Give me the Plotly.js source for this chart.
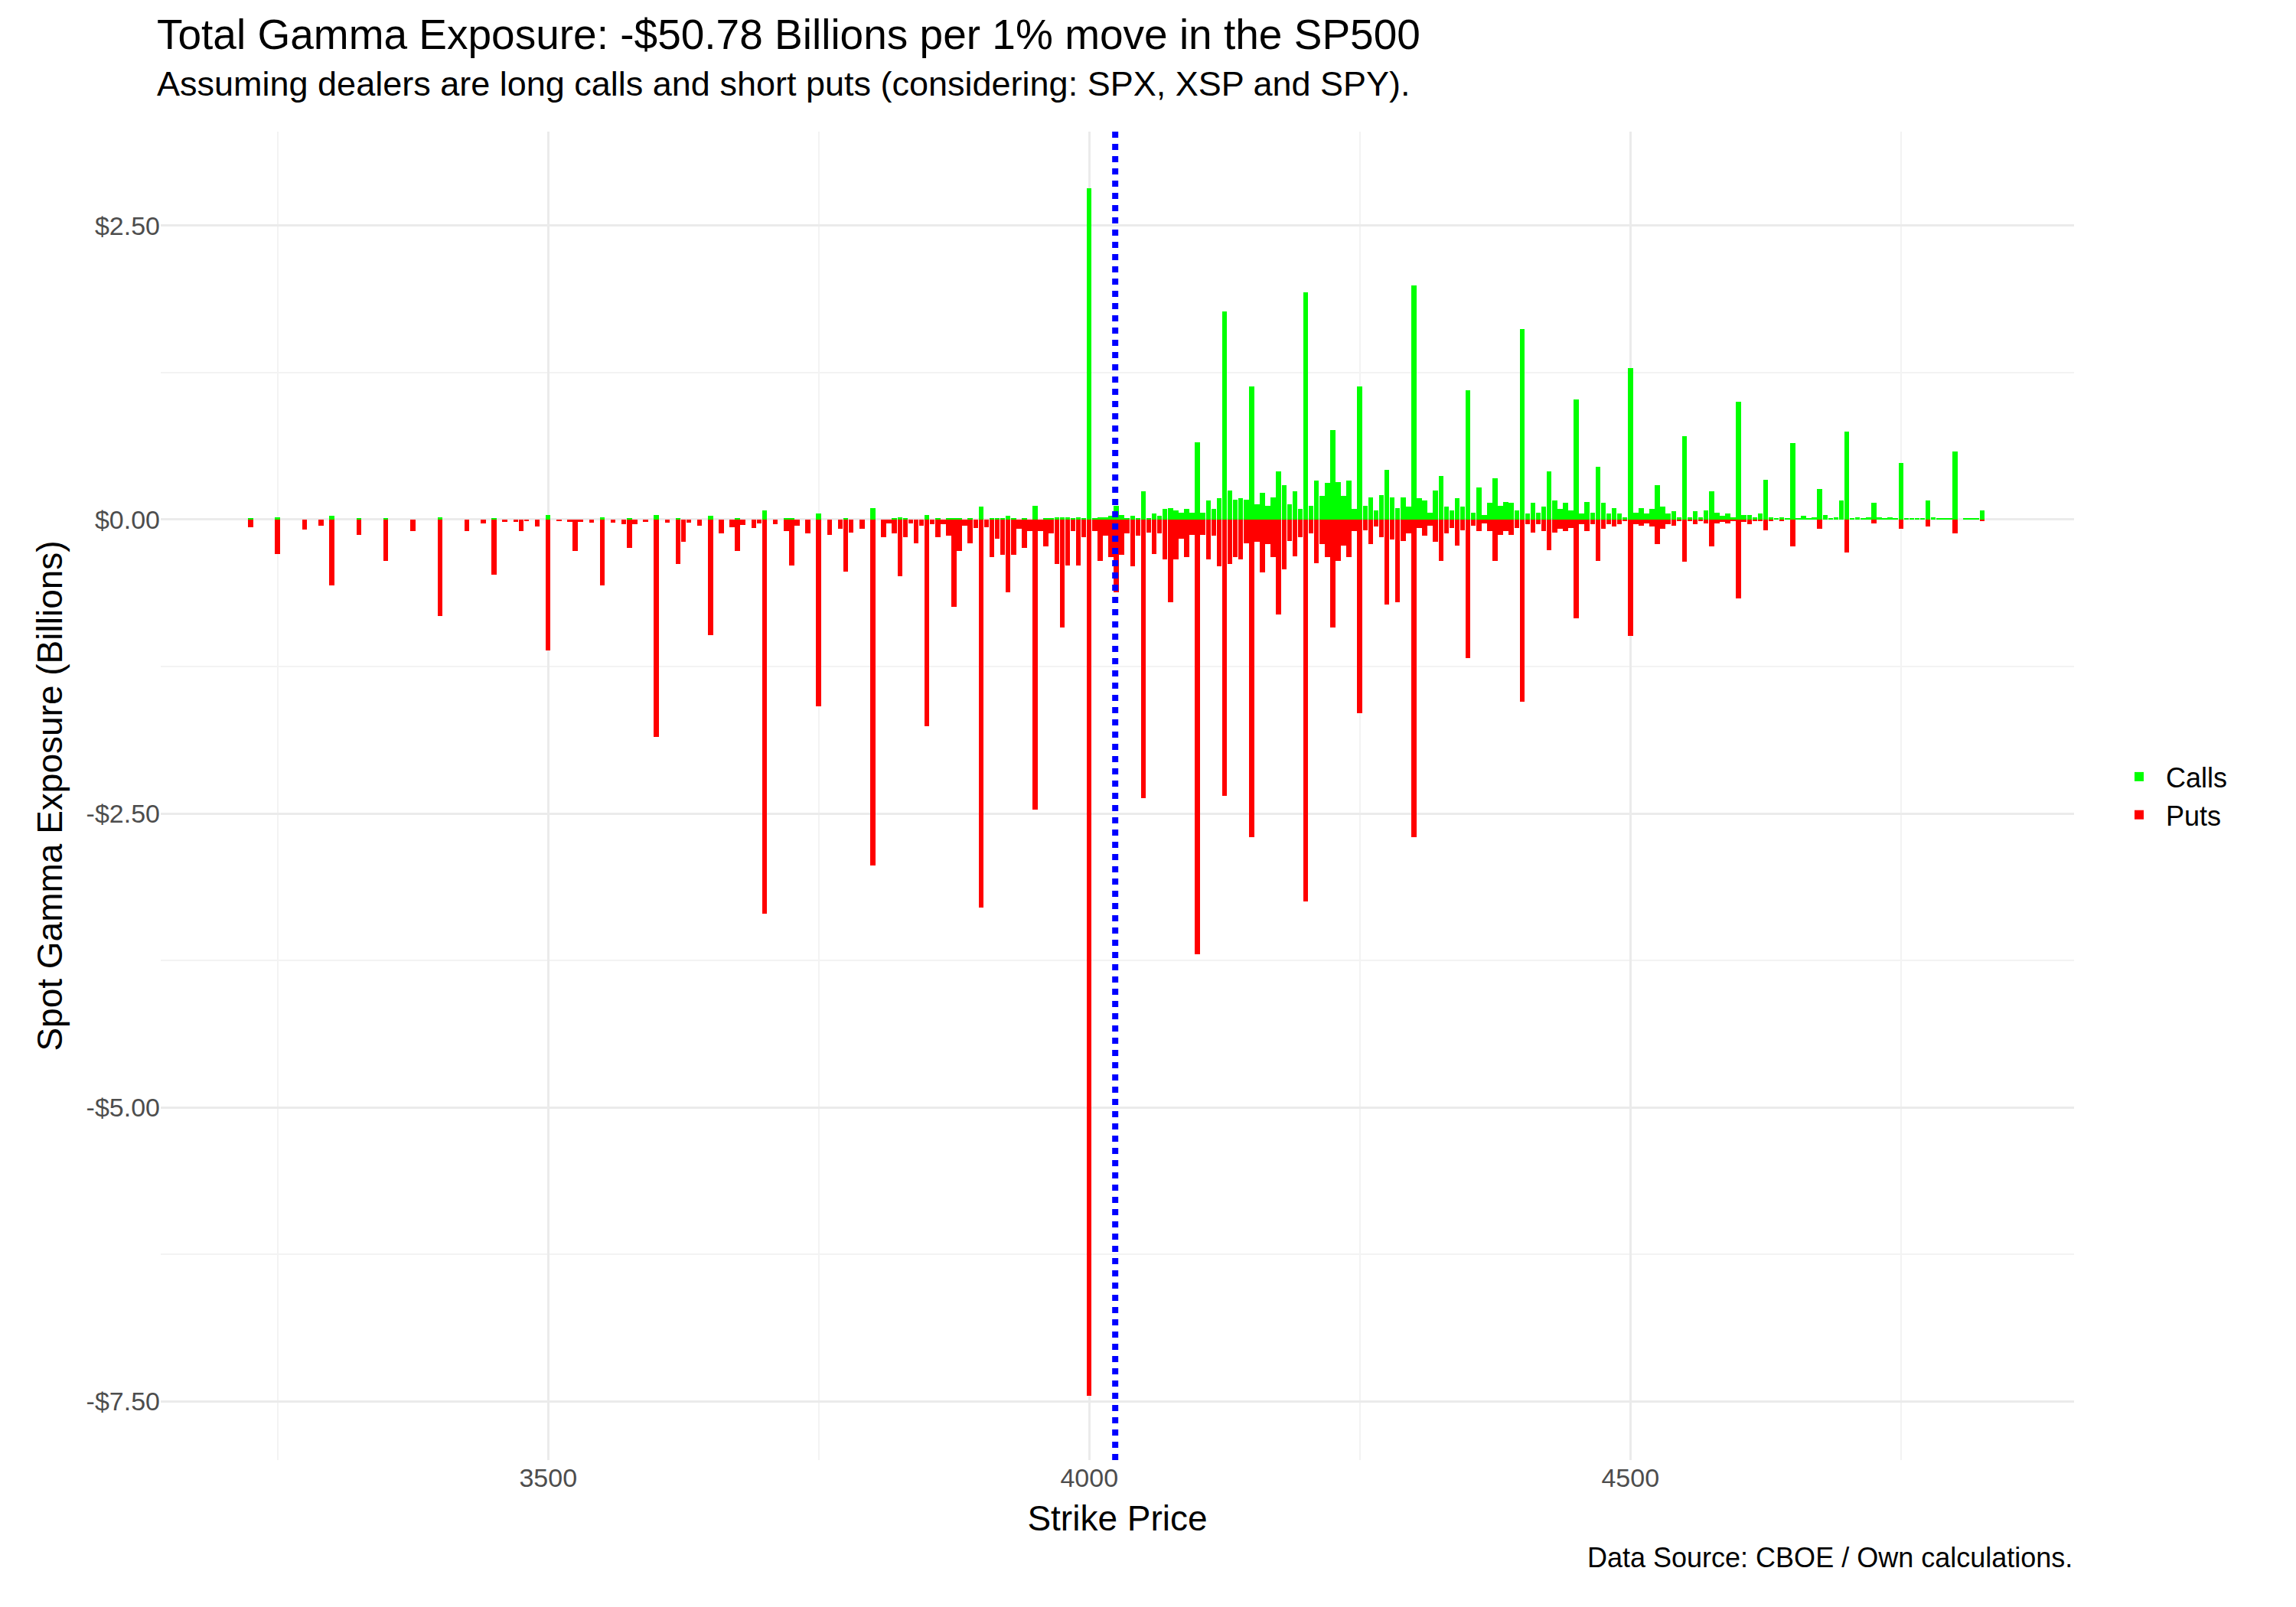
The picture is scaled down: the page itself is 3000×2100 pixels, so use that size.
<!DOCTYPE html>
<html>
<head>
<meta charset="utf-8">
<script src="https://cdn.plot.ly/plotly-3.0.1.min.js"></script>
<style>body{margin:0;background:#fff}</style>
</head>
<body>
<div id="chart" style="width:3000px;height:2100px"></div>
<script>
// strike prices and gamma exposure (billions) per 1% move
var strikes = [3225,3250,3275,3290,3300,3325,3350,3375,3400,3425,3440,3450,3460,3470,3475,3480,3490,3500,3510,3520,3525,3530,3540,3550,3560,3570,3575,3580,3590,3600,3610,3620,3625,3630,3640,3650,3660,3670,3675,3680,3690,3695,
  3700,3710,3720,3725,3730,3740,3750,3760,3770,3775,3780,3790,3800,3810,3815,3820,3825,3830,3835,3840,3845,3850,3855,3860,3865,3870,3875,3880,3885,3890,3895,
  3900,3905,3910,3915,3920,3925,3930,3935,3940,3945,3950,3955,3960,3965,3970,3975,3980,3985,3990,3995,
  4000,4005,4010,4015,4020,4025,4030,4035,4040,4045,4050,4055,4060,4065,4070,4075,4080,4085,4090,4095,
  4100,4105,4110,4115,4120,4125,4130,4135,4140,4145,4150,4155,4160,4165,4170,4175,4180,4185,4190,4195,
  4200,4205,4210,4215,4220,4225,4230,4235,4240,4245,4250,4255,4260,4265,4270,4275,4280,4285,4290,4295,
  4300,4305,4310,4315,4320,4325,4330,4335,4340,4345,4350,4355,4360,4365,4370,4375,4380,4385,4390,4395,
  4400,4405,4410,4415,4420,4425,4430,4435,4440,4445,4450,4455,4460,4465,4470,4475,4480,4485,4490,4495,
  4500,4505,4510,4515,4520,4525,4530,4535,4540,4545,4550,4555,4560,4565,4570,4575,4580,4585,4590,4595,
  4600,4605,4610,4615,4620,4625,4630,4635,4640,4645,4650,4655,4660,4665,4670,4675,4680,4685,4690,4695,
  4700,4705,4710,4715,4720,4725,4730,4735,4740,4745,4750,4755,4760,4765,4770,4775,4780,4785,4790,4795,
  4800,4810,4815,4820,4825];

var callGex = [0.01,0.02,0,0,0.03,0.01,0.01,0,0.02,0,0,0.01,0,0,0,0,0,0.04,0,0,0,0,0,0.02,0,0,0.01,0,0,0.04,0,0.01,0,0,0,0.03,0,0,0.01,0,0,0,
  0.08,0,0.01,0.01,0,0,0.05,0,0,0.01,0,0,0.1,0,0,0.01,0.02,0.01,0,0,0,0.04,0,0.01,0,0.01,0.01,0.01,0,0.01,0,
  0.11,0,0.01,0.01,0.01,0.03,0.01,0,0.01,0,0.12,0,0.01,0.01,0.02,0.02,0.02,0.01,0.02,0.01,
  2.82,0.01,0.02,0.02,0.03,0.12,0.04,0.01,0.03,0.01,0.24,0.01,0.05,0.03,0.09,0.1,0.08,0.06,0.09,0.06,
  0.66,0.06,0.16,0.09,0.18,1.77,0.25,0.17,0.18,0.17,1.13,0.13,0.23,0.12,0.19,0.41,0.29,0.13,0.24,0.09,
  1.93,0.12,0.33,0.2,0.31,0.76,0.32,0.2,0.33,0.09,1.13,0.12,0.19,0.08,0.21,0.42,0.19,0.1,0.19,0.11,
  1.99,0.18,0.16,0.06,0.25,0.37,0.11,0.08,0.18,0.11,1.1,0.06,0.27,0.04,0.14,0.35,0.12,0.15,0.14,0.08,
  1.62,0.05,0.14,0.06,0.11,0.41,0.16,0.09,0.14,0.08,1.02,0.05,0.15,0.06,0.45,0.14,0.05,0.1,0.05,0.02,
  1.29,0.06,0.1,0.05,0.09,0.29,0.11,0.05,0.07,0.02,0.71,0.02,0.07,0.02,0.08,0.24,0.06,0.03,0.05,0.02,
  1.0,0.04,0.04,0.02,0.05,0.34,0.02,0.01,0.02,0.01,0.65,0.01,0.03,0.01,0.02,0.26,0.04,0.01,0.02,0.16,
  0.75,0.01,0.02,0.01,0.02,0.14,0.02,0.01,0.02,0.01,0.48,0.01,0.01,0.01,0.01,0.16,0.02,0.01,0.01,0.01,
  0.58,0.01,0.01,0.01,0.08];

var putGex = [-0.065,-0.29,-0.085,-0.05,-0.56,-0.13,-0.35,-0.1,-0.82,-0.1,-0.03,-0.47,-0.02,-0.02,-0.1,-0.01,-0.06,-1.11,-0.01,-0.02,-0.27,-0.02,-0.025,-0.56,-0.025,-0.04,-0.24,-0.04,-0.02,-1.85,-0.025,-0.38,-0.19,-0.025,-0.05,-0.98,-0.12,-0.065,-0.27,-0.045,-0.07,-0.03,
  -3.35,-0.04,-0.1,-0.39,-0.05,-0.12,-1.59,-0.13,-0.08,-0.44,-0.11,-0.08,-2.94,-0.15,-0.03,-0.12,-0.48,-0.15,-0.03,-0.2,-0.05,-1.76,-0.04,-0.15,-0.04,-0.14,-0.74,-0.27,-0.05,-0.2,-0.07,
  -3.3,-0.065,-0.32,-0.16,-0.3,-0.62,-0.3,-0.08,-0.24,-0.1,-2.47,-0.1,-0.23,-0.12,-0.38,-0.92,-0.39,-0.1,-0.39,-0.15,
  -7.45,-0.1,-0.35,-0.14,-0.32,-0.62,-0.3,-0.12,-0.4,-0.14,-2.37,-0.11,-0.29,-0.12,-0.34,-0.7,-0.34,-0.16,-0.32,-0.13,
  -3.7,-0.13,-0.34,-0.14,-0.4,-2.35,-0.38,-0.32,-0.34,-0.2,-2.7,-0.19,-0.45,-0.21,-0.32,-0.81,-0.42,-0.18,-0.31,-0.15,
  -3.25,-0.12,-0.37,-0.21,-0.32,-0.92,-0.35,-0.22,-0.32,-0.1,-1.65,-0.09,-0.21,-0.06,-0.15,-0.72,-0.17,-0.7,-0.18,-0.12,
  -2.7,-0.07,-0.14,-0.05,-0.19,-0.35,-0.12,-0.07,-0.22,-0.09,-1.18,-0.05,-0.1,-0.03,-0.1,-0.35,-0.13,-0.1,-0.13,-0.07,
  -1.55,-0.04,-0.11,-0.04,-0.1,-0.26,-0.11,-0.08,-0.1,-0.07,-0.84,-0.04,-0.1,-0.04,-0.35,-0.08,-0.04,-0.06,-0.04,-0.01,
  -0.99,-0.04,-0.05,-0.03,-0.06,-0.21,-0.08,-0.04,-0.05,-0.01,-0.36,-0.01,-0.04,-0.01,-0.03,-0.23,-0.03,-0.02,-0.03,-0.01,
  -0.67,-0.02,-0.04,-0.01,-0.01,-0.09,-0.01,0,-0.01,0,-0.23,0,0,0,0,-0.08,0,0,0,0,
  -0.28,0,0,0,0,-0.03,0,0,0,0,-0.08,0,0,0,0,-0.06,0,0,0,0,
  -0.12,0,0,0,-0.01];

var spotPrice = 4024;
var yTicks = [2.5, 0, -2.5, -5, -7.5];
var yTickText = ['$2.50', '$0.00', '-$2.50', '-$5.00', '-$7.50'];

var font = 'Liberation Sans, Arial, sans-serif';

var calls = {
  type: 'bar', name: 'Calls', x: strikes, y: callGex, width: 4.6,
  marker: {color: '#00ff00', line: {width: 0}}
};
var puts = {
  type: 'bar', name: 'Puts', x: strikes, y: putGex, width: 4.6,
  marker: {color: '#ff0000', line: {width: 0}}
};

var layout = {
  width: 3000, height: 2100,
  paper_bgcolor: '#fff', plot_bgcolor: '#fff',
  font: {family: font, color: '#000'},
  barmode: 'relative', bargap: 0,
  margin: {l: 210, r: 290, t: 172, b: 192},
  title: {text: 'Total Gamma Exposure: -$50.78 Billions per 1% move in the SP500',
          x: 205/3000, xanchor: 'left', y: 1 - 45/2100, yanchor: 'middle',
          font: {size: 55, family: font, color: '#000'}},
  annotations: [
    {text: 'Assuming dealers are long calls and short puts (considering: SPX, XSP and SPY).',
     xref: 'paper', yref: 'paper', x: -0.003, y: 1 + 62/1736, xanchor: 'left', yanchor: 'middle',
     showarrow: false, font: {size: 45, family: font, color: '#000'}},
    {text: 'Data Source: CBOE / Own calculations.',
     xref: 'paper', yref: 'paper', x: 1, y: -128/1736, xanchor: 'right', yanchor: 'middle',
     showarrow: false, font: {size: 36, family: font, color: '#000'}}
  ],
  shapes: [{type: 'line', xref: 'x', yref: 'paper', x0: spotPrice, x1: spotPrice, y0: 0, y1: 1,
            line: {color: '#0000ff', width: 8, dash: 'dot'}}],
  xaxis: {
    range: [3142, 4910], tickvals: [3500, 4000, 4500], ticktext: ['3500', '4000', '4500'],
    showgrid: true, gridcolor: '#ebebeb', gridwidth: 3, zeroline: false, showline: false, ticks: '',
    minor: {tickvals: [3250, 3750, 4250, 4750], showgrid: true, gridcolor: '#f3f3f3', gridwidth: 2},
    tickfont: {size: 34, color: '#4d4d4d'},
    title: {text: 'Strike Price', font: {size: 46}, standoff: 18}
  },
  yaxis: {
    range: [-8.0, 3.3], tickvals: yTicks, ticktext: yTickText,
    showgrid: true, gridcolor: '#ebebeb', gridwidth: 3, zeroline: false, showline: false, ticks: '',
    minor: {tickvals: [1.25, -1.25, -3.75, -6.25], showgrid: true, gridcolor: '#f3f3f3', gridwidth: 2},
    tickfont: {size: 34, color: '#4d4d4d'},
    title: {text: 'Spot Gamma Exposure (Billions)', font: {size: 46}, standoff: 16}
  },
  legend: {x: 1.02, xanchor: 'left', y: 0.5, yanchor: 'middle', traceorder: 'normal',
           font: {size: 36, family: font}, itemsizing: 'constant', itemwidth: 60, tracegroupgap: 14}
};

Plotly.newPlot('chart', [calls, puts], layout, {displayModeBar: false, staticPlot: true});
</script>
</body>
</html>
